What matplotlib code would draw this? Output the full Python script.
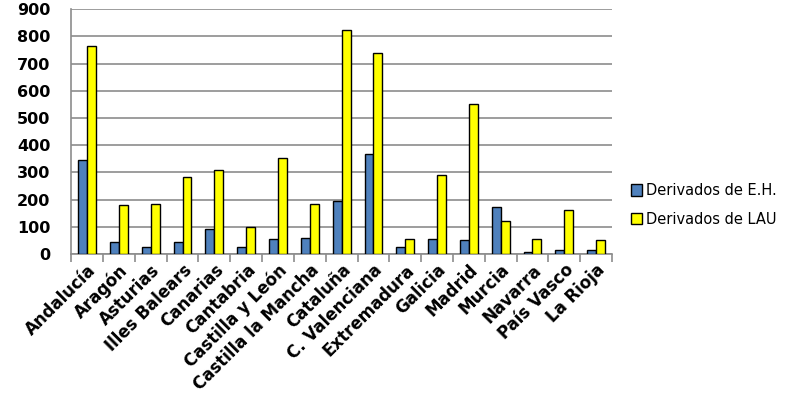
import numpy as np
import matplotlib
matplotlib.use("Agg")
import matplotlib.pyplot as plt

# data
regiones = ["Andalucía", "Aragón", "Asturias", "Illes Balears", "Canarias",
            "Cantabria", "Castilla y León", "Castilla la Mancha", "Cataluña",
            "C. Valenciana", "Extremadura", "Galicia", "Madrid", "Murcia",
            "Navarra", "País Vasco", "La Rioja"]
deriv_eh = [344, 44, 24, 44, 91, 24, 55, 60, 195, 368, 24, 55, 50, 173, 8, 15, 15]
deriv_lau = [766, 179, 185, 282, 307, 100, 354, 184, 822, 740, 54, 292, 553, 121, 54, 163, 50]

fig = plt.figure(figsize=(8, 4.13), dpi=100)
ax = fig.add_axes([0.089, 0.385, 0.676, 0.593])

x = np.arange(len(regiones))
w = 0.28
ax.bar(x - w/2, deriv_eh, w, color="#4F81BD", edgecolor="black", linewidth=1,
       label="Derivados de E.H.", zorder=3)
ax.bar(x + w/2, deriv_lau, w, color="#FFFF00", edgecolor="black", linewidth=1,
       label="Derivados de LAU", zorder=3)

ax.set_xlim(-0.5, len(regiones) - 0.5)
ax.set_ylim(0, 900)
ax.set_yticks(range(0, 901, 100))
ax.yaxis.grid(True, color="#8c8c8c", linewidth=1.2, zorder=0)
ax.tick_params(axis="y", length=0, pad=15)
for lbl in ax.get_yticklabels():
    lbl.set_fontweight("bold")
    lbl.set_fontsize(11.5)

# category labels at centers, tick marks at boundaries
ax.set_xticks(x)
ax.set_xticklabels(regiones, rotation=45, ha="right", rotation_mode="anchor",
                   fontsize=12, fontweight="bold")
ax.tick_params(axis="x", length=0, pad=5)
ax.set_xticks(np.arange(-0.5, len(regiones), 1), minor=True)
ax.tick_params(axis="x", which="minor", length=6, color="#8c8c8c", width=1.2)

for s in ["top", "right"]:
    ax.spines[s].set_visible(False)
ax.spines["left"].set_color("#8c8c8c")
ax.spines["bottom"].set_color("#8c8c8c")
ax.spines["left"].set_linewidth(1.2)
ax.spines["bottom"].set_linewidth(1.2)

ax.legend(loc="center left", bbox_to_anchor=(1.01, 0.2), frameon=False,
          fontsize=10.5, handlelength=0.8, handleheight=0.8, handletextpad=0.25,
          labelspacing=0.95)

fig.savefig("out.png", dpi=100)
